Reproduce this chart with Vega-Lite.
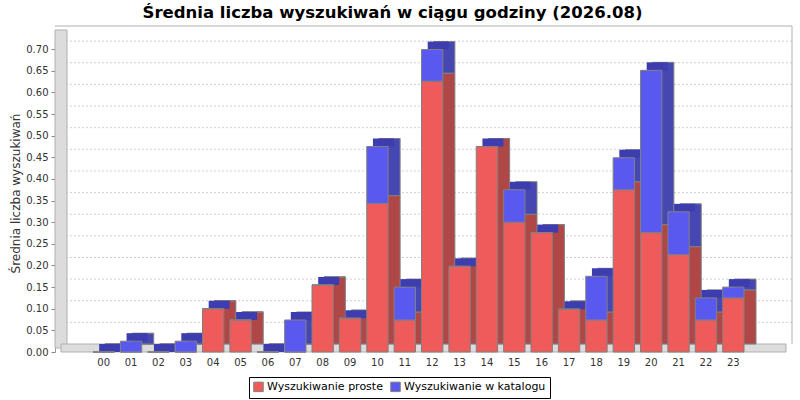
{
  "$schema": "https://vega.github.io/schema/vega-lite/v6.json",
  "autosize": {"type": "none"},
  "width": 725,
  "height": 318,
  "padding": {"left": 55, "top": 34, "right": 20, "bottom": 48},
  "background": "white",
  "config": {
    "font": "DejaVu Sans",
    "view": {"stroke": null},
    "axis": {"labelFont": "DejaVu Sans", "titleFont": "DejaVu Sans"},
    "axisY": {
      "grid": false,
      "domainColor": "#999999",
      "tickColor": "#888888",
      "tickSize": 4,
      "labelPadding": 3,
      "labelFontSize": 10,
      "labelColor": "#333333",
      "titleFontSize": 12,
      "titleFontWeight": "normal",
      "titleColor": "#333333",
      "titlePadding": 3
    }
  },
  "title": {
    "text": "Średnia liczba wyszukiwań w ciągu godziny (2026.08)",
    "font": "DejaVu Sans",
    "fontSize": 16.5,
    "fontWeight": "bold",
    "color": "#000000",
    "anchor": "middle",
    "frame": "group",
    "dx": -25,
    "dy": 10,
    "offset": 14
  },
  "datasets": {
    "godziny": [
      {"godzina": "00", "seria": "Wyszukiwanie proste", "wartosc": 0},
      {"godzina": "00", "seria": "Wyszukiwanie w katalogu", "wartosc": 0},
      {"godzina": "01", "seria": "Wyszukiwanie proste", "wartosc": 0},
      {"godzina": "01", "seria": "Wyszukiwanie w katalogu", "wartosc": 0.025},
      {"godzina": "02", "seria": "Wyszukiwanie proste", "wartosc": 0},
      {"godzina": "02", "seria": "Wyszukiwanie w katalogu", "wartosc": 0},
      {"godzina": "03", "seria": "Wyszukiwanie proste", "wartosc": 0},
      {"godzina": "03", "seria": "Wyszukiwanie w katalogu", "wartosc": 0.025},
      {"godzina": "04", "seria": "Wyszukiwanie proste", "wartosc": 0.1},
      {"godzina": "04", "seria": "Wyszukiwanie w katalogu", "wartosc": 0},
      {"godzina": "05", "seria": "Wyszukiwanie proste", "wartosc": 0.074},
      {"godzina": "05", "seria": "Wyszukiwanie w katalogu", "wartosc": 0},
      {"godzina": "06", "seria": "Wyszukiwanie proste", "wartosc": 0},
      {"godzina": "06", "seria": "Wyszukiwanie w katalogu", "wartosc": 0},
      {"godzina": "07", "seria": "Wyszukiwanie proste", "wartosc": 0},
      {"godzina": "07", "seria": "Wyszukiwanie w katalogu", "wartosc": 0.074},
      {"godzina": "08", "seria": "Wyszukiwanie proste", "wartosc": 0.155},
      {"godzina": "08", "seria": "Wyszukiwanie w katalogu", "wartosc": 0},
      {"godzina": "09", "seria": "Wyszukiwanie proste", "wartosc": 0.078},
      {"godzina": "09", "seria": "Wyszukiwanie w katalogu", "wartosc": 0},
      {"godzina": "10", "seria": "Wyszukiwanie proste", "wartosc": 0.343},
      {"godzina": "10", "seria": "Wyszukiwanie w katalogu", "wartosc": 0.132},
      {"godzina": "11", "seria": "Wyszukiwanie proste", "wartosc": 0.074},
      {"godzina": "11", "seria": "Wyszukiwanie w katalogu", "wartosc": 0.076},
      {"godzina": "12", "seria": "Wyszukiwanie proste", "wartosc": 0.626},
      {"godzina": "12", "seria": "Wyszukiwanie w katalogu", "wartosc": 0.073},
      {"godzina": "13", "seria": "Wyszukiwanie proste", "wartosc": 0.198},
      {"godzina": "13", "seria": "Wyszukiwanie w katalogu", "wartosc": 0},
      {"godzina": "14", "seria": "Wyszukiwanie proste", "wartosc": 0.475},
      {"godzina": "14", "seria": "Wyszukiwanie w katalogu", "wartosc": 0},
      {"godzina": "15", "seria": "Wyszukiwanie proste", "wartosc": 0.3},
      {"godzina": "15", "seria": "Wyszukiwanie w katalogu", "wartosc": 0.075},
      {"godzina": "16", "seria": "Wyszukiwanie proste", "wartosc": 0.276},
      {"godzina": "16", "seria": "Wyszukiwanie w katalogu", "wartosc": 0},
      {"godzina": "17", "seria": "Wyszukiwanie proste", "wartosc": 0.099},
      {"godzina": "17", "seria": "Wyszukiwanie w katalogu", "wartosc": 0},
      {"godzina": "18", "seria": "Wyszukiwanie proste", "wartosc": 0.074},
      {"godzina": "18", "seria": "Wyszukiwanie w katalogu", "wartosc": 0.101},
      {"godzina": "19", "seria": "Wyszukiwanie proste", "wartosc": 0.375},
      {"godzina": "19", "seria": "Wyszukiwanie w katalogu", "wartosc": 0.074},
      {"godzina": "20", "seria": "Wyszukiwanie proste", "wartosc": 0.276},
      {"godzina": "20", "seria": "Wyszukiwanie w katalogu", "wartosc": 0.375},
      {"godzina": "21", "seria": "Wyszukiwanie proste", "wartosc": 0.225},
      {"godzina": "21", "seria": "Wyszukiwanie w katalogu", "wartosc": 0.099},
      {"godzina": "22", "seria": "Wyszukiwanie proste", "wartosc": 0.074},
      {"godzina": "22", "seria": "Wyszukiwanie w katalogu", "wartosc": 0.051},
      {"godzina": "23", "seria": "Wyszukiwanie proste", "wartosc": 0.125},
      {"godzina": "23", "seria": "Wyszukiwanie w katalogu", "wartosc": 0.025}
    ],
    "siatka": [
      {"v": 0.05}, {"v": 0.1}, {"v": 0.15}, {"v": 0.2}, {"v": 0.25}, {"v": 0.3}, {"v": 0.35},
      {"v": 0.4}, {"v": 0.45}, {"v": 0.5}, {"v": 0.55}, {"v": 0.6}, {"v": 0.65}, {"v": 0.7}
    ]
  },
  "layer": [
    {
      "layer": [
        {
          "data": {"name": "siatka"},
          "mark": {"type": "rule", "stroke": "#d0d0d0", "strokeDash": [2, 2], "strokeWidth": 1, "xOffset": 12, "x2Offset": 12, "yOffset": -8},
          "encoding": {
            "y": {
              "field": "v",
              "type": "quantitative",
              "title": "Średnia liczba wyszukiwań",
              "scale": {"domain": [0, 0.735], "nice": false, "zero": true},
              "axis": {
                "values": [0, 0.05, 0.1, 0.15, 0.2, 0.25, 0.3, 0.35, 0.4, 0.45, 0.5, 0.55, 0.6, 0.65, 0.7],
                "tickCount": 15,
                "labelOverlap": false,
                "format": ".2f"
              }
            }
          }
        },
        {
          "data": {"values": [{}]},
          "mark": {"type": "rule", "stroke": "#b0b0b0", "strokeWidth": 1, "xOffset": 12, "x2Offset": 12, "yOffset": -8},
          "encoding": {
            "y": {"datum": 0.735, "type": "quantitative", "title": "Średnia liczba wyszukiwań"}
          }
        },
        {
          "data": {"values": [{}]},
          "mark": {"type": "rule", "stroke": "#b0b0b0", "strokeWidth": 1, "xOffset": 12, "yOffset": -8, "y2Offset": -8},
          "encoding": {
            "x": {"datum": 1, "type": "quantitative", "scale": {"domain": [0, 1], "nice": false}, "axis": null},
            "y": {"datum": 0, "type": "quantitative", "title": "Średnia liczba wyszukiwań"},
            "y2": {"datum": 0.735}
          }
        },
        {
          "data": {"values": [{}]},
          "mark": {"type": "rect", "fill": "#dcdcdc", "stroke": "#b0b0b0", "strokeWidth": 1, "x2Offset": 12, "yOffset": -4, "y2Offset": -4},
          "encoding": {
            "x": {"datum": 0, "type": "quantitative", "axis": null},
            "x2": {"datum": 0},
            "y": {"datum": 0, "type": "quantitative", "title": "Średnia liczba wyszukiwań"},
            "y2": {"datum": 0.735}
          }
        },
        {
          "data": {"values": [{}]},
          "mark": {"type": "rect", "fill": "#dcdcdc", "stroke": "#b0b0b0", "strokeWidth": 1, "xOffset": 6, "x2Offset": 6, "y2Offset": -8},
          "encoding": {
            "x": {"datum": 0, "type": "quantitative", "axis": null},
            "x2": {"datum": 1},
            "y": {"datum": 0, "type": "quantitative", "title": "Średnia liczba wyszukiwań"},
            "y2": {"datum": 0}
          }
        }
      ]
    },
    {
      "data": {"name": "godziny"},
      "encoding": {
        "x": {
          "field": "godzina",
          "type": "ordinal",
          "title": null,
          "scale": {"paddingInner": 0.22, "paddingOuter": 0, "range": [38, 689]},
          "axis": {"labelAngle": 0, "ticks": false, "domain": false, "labelPadding": 5, "labelFontSize": 10, "labelColor": "#333333"}
        }
      },
      "layer": [
        {
          "mark": {"type": "bar", "stroke": "#808080", "strokeWidth": 1, "xOffset": 12, "x2Offset": 12, "yOffset": -8, "y2Offset": -8},
          "encoding": {
            "y": {"field": "wartosc", "type": "quantitative", "stack": "zero", "title": "Średnia liczba wyszukiwań"},
            "fill": {
              "condition": {"test": "datum.seria === 'Wyszukiwanie proste'", "value": "#b04747"},
              "value": "#4747b2"
            },
            "detail": {"field": "seria", "type": "nominal"},
            "order": {"field": "seria"}
          }
        },
        {
          "transform": [{"aggregate": [{"op": "sum", "field": "wartosc", "as": "suma"}], "groupby": ["godzina"]}],
          "mark": {"type": "tick", "color": "#3d3daf", "opacity": 1, "size": 21, "thickness": 8, "xOffset": 6, "yOffset": -4},
          "encoding": {
            "y": {"field": "suma", "type": "quantitative", "title": "Średnia liczba wyszukiwań"}
          }
        },
        {
          "mark": {"type": "bar", "stroke": "#808080", "strokeWidth": 1, "opacity": 1},
          "encoding": {
            "y": {
              "field": "wartosc",
              "type": "quantitative",
              "stack": "zero",
              "title": "Średnia liczba wyszukiwań",
              "axis": {
                "values": [0, 0.05, 0.1, 0.15, 0.2, 0.25, 0.3, 0.35, 0.4, 0.45, 0.5, 0.55, 0.6, 0.65, 0.7],
                "tickCount": 15,
                "labelOverlap": false,
                "format": ".2f"
              }
            },
            "color": {
              "field": "seria",
              "type": "nominal",
              "scale": {"domain": ["Wyszukiwanie proste", "Wyszukiwanie w katalogu"], "range": ["#ef5b5b", "#5959ef"]},
              "legend": {
                "title": null,
                "orient": "none",
                "direction": "horizontal",
                "legendX": 194,
                "legendY": 343,
                "strokeColor": "#000000",
                "padding": 4,
                "symbolType": "square",
                "symbolSize": 90,
                "symbolStrokeColor": "#808080",
                "symbolStrokeWidth": 1,
                "symbolOpacity": 1,
                "labelFontSize": 11,
                "labelColor": "#000000",
                "labelOffset": 3,
                "columnPadding": 5
              }
            },
            "order": {"field": "seria"}
          }
        }
      ]
    }
  ],
  "resolve": {"scale": {"x": "independent"}}
}
